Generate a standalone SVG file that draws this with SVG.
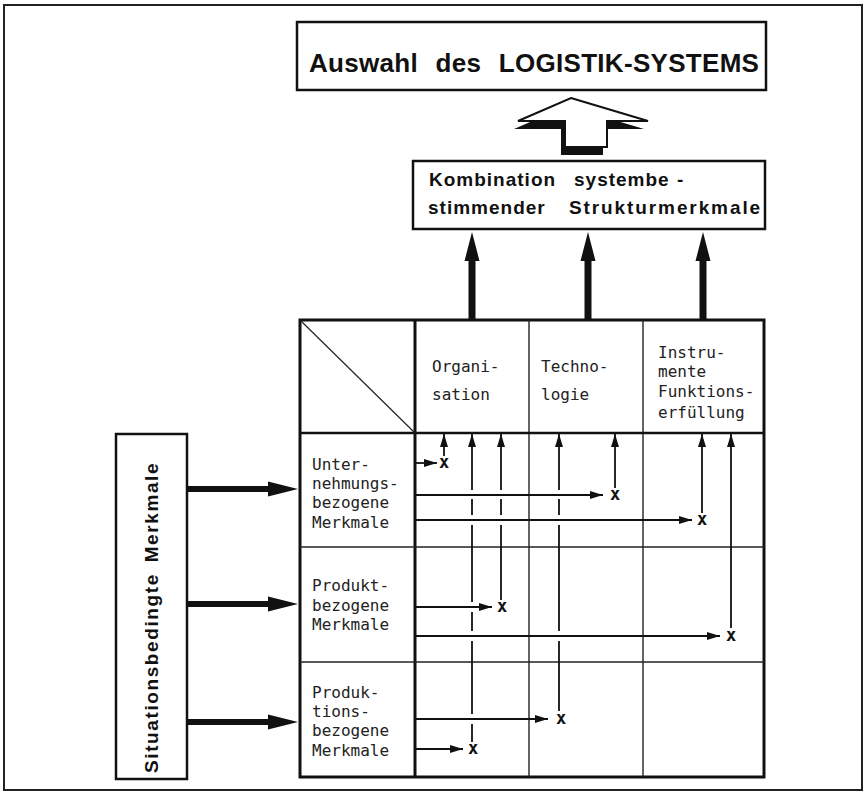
<svg xmlns="http://www.w3.org/2000/svg" width="867" height="796" viewBox="0 0 867 796">
<defs>
<style>
.bold{font-family:"Liberation Sans",Arial,sans-serif;font-weight:bold;fill:#111}
.mono{font-family:"DejaVu Sans Mono","Liberation Mono",monospace;font-size:16px;fill:#222}
.xm{font-family:"DejaVu Sans Mono","Liberation Mono",monospace;font-weight:bold;font-size:17px;fill:#111;text-anchor:middle}
.box{fill:#fff;stroke:#111;stroke-width:2.5}
.thin{stroke:#111;stroke-width:1.8;fill:none}
.arr{marker-end:url(#ah)}
.gridl{stroke:#222;stroke-width:1.4;fill:none}
.gridb{stroke:#111;stroke-width:3;fill:none}
.fat{fill:#111;stroke:none}
</style>
<marker id="ah" markerUnits="userSpaceOnUse" markerWidth="14" markerHeight="8" refX="13" refY="4" orient="auto"><path d="M0,0 L13,4 L0,8 z" fill="#111"/></marker>
</defs>
<rect width="867" height="796" fill="#fff"/>
<rect x="4" y="5" width="858" height="785" fill="none" stroke="#222" stroke-width="2"/>

<g id="auswahl">
<rect x="297" y="22" width="469" height="68" class="box"/>
<text x="309" y="72" class="bold" font-size="26" word-spacing="10" letter-spacing="0.3">Auswahl des LOGISTIK-SYSTEMS</text>
</g>

<g id="block-arrow">
<polygon points="571,98 648,121 607,121 607,147 565,147 565,121 518,121" transform="translate(-4,8)" fill="#111"/>
<polygon points="571,98 648,121 607,121 607,147 565,147 565,121 518,121" fill="#fff" stroke="#111" stroke-width="2" stroke-linejoin="miter"/>
</g>

<g id="kombination">
<rect x="413" y="161" width="352" height="68" class="box"/>
<text class="bold" font-size="19" letter-spacing="1" y="186"><tspan x="429">Kombination</tspan><tspan x="574">systembe</tspan><tspan x="677">-</tspan></text>
<text class="bold" font-size="19" letter-spacing="1" y="214"><tspan x="428">stimmender</tspan><tspan x="569" letter-spacing="1.9">Strukturmerkmale</tspan></text>
</g>

<g id="situationsbedingte-merkmale">
<rect x="116" y="434" width="71" height="345" class="box"/>
<text transform="translate(158,773) rotate(-90)" class="bold" font-size="19" letter-spacing="1.6" word-spacing="4">Situationsbedingte Merkmale</text>
</g>

<g id="matrix">
<rect x="300" y="320" width="464" height="457" class="gridb" fill="#fff"/>
<line x1="415" y1="320" x2="415" y2="777" class="gridb"/>
<line x1="529" y1="320" x2="529" y2="777" class="gridl"/>
<line x1="643" y1="320" x2="643" y2="777" class="gridl"/>
<line x1="300" y1="433" x2="764" y2="433" stroke="#111" stroke-width="2.5"/>
<line x1="300" y1="547" x2="764" y2="547" stroke="#222" stroke-width="1.6"/>
<line x1="300" y1="662" x2="764" y2="662" stroke="#222" stroke-width="1.6"/>
<line x1="300" y1="320" x2="415" y2="433" stroke="#222" stroke-width="1.2"/>
</g>

<g id="col-organisation"><text class="mono" x="432" y="372">Organi-</text><text class="mono" x="432" y="400">sation</text></g>
<g id="col-technologie"><text class="mono" x="541" y="372">Techno-</text><text class="mono" x="541" y="400">logie</text></g>
<g id="col-instrumente"><text class="mono" x="658" y="358">Instru-</text><text class="mono" x="658" y="377">mente</text><text class="mono" x="658" y="397">Funktions-</text><text class="mono" x="658" y="418">erfüllung</text></g>

<g id="row-unternehmung"><text class="mono" x="312" y="470">Unter-</text><text class="mono" x="312" y="489">nehmungs-</text><text class="mono" x="312" y="508">bezogene</text><text class="mono" x="312" y="528">Merkmale</text></g>
<g id="row-produkt"><text class="mono" x="312" y="591">Produkt-</text><text class="mono" x="312" y="611">bezogene</text><text class="mono" x="312" y="630">Merkmale</text></g>
<g id="row-produktion"><text class="mono" x="312" y="698">Produk-</text><text class="mono" x="312" y="717">tions-</text><text class="mono" x="312" y="736">bezogene</text><text class="mono" x="312" y="756">Merkmale</text></g>

<g id="connectors">
<path class="fat" d="M468.5,320 V261 H464.5 L472,232 L479.5,261 H475.5 V320 Z"/>
<path class="fat" d="M584.5,320 V261 H580.5 L588,232 L595.5,261 H591.5 V320 Z"/>
<path class="fat" d="M699.5,320 V261 H695.5 L703,232 L710.5,261 H706.5 V320 Z"/>
<path class="fat" d="M187,486 H268 V481.5 L298,489 L268,496.5 V492 H187 Z"/>
<path class="fat" d="M187,601 H268 V596.5 L298,604 L268,611.5 V607 H187 Z"/>
<path class="fat" d="M187,719 H268 V714.5 L298,722 L268,729.5 V725 H187 Z"/>

<path class="thin arr" d="M415,463 H437"/>
<path class="thin arr" d="M415,495 H603"/>
<path class="thin arr" d="M415,520 H692"/>
<path class="thin arr" d="M415,607 H492"/>
<path class="thin arr" d="M415,636 H720"/>
<path class="thin arr" d="M415,719 H548"/>
<path class="thin arr" d="M415,749 H463"/>

<path class="thin arr" d="M444,456 V434"/>
<path class="thin arr" d="M472,490 V434"/>
<path class="thin" d="M472,499 V515 M472,525 V602 M472,612 V631 M472,641 V714 M472,724 V742"/>
<path class="thin arr" d="M501,490 V434"/>
<path class="thin" d="M501,499 V515 M501,525 V600"/>
<path class="thin arr" d="M559,490 V434"/>
<path class="thin" d="M559,499 V515 M559,525 V631 M559,641 V711"/>
<path class="thin arr" d="M615,488 V434"/>
<path class="thin arr" d="M702,513 V434"/>
<path class="thin arr" d="M731,628 V434"/>
</g>

<g id="marks">
<text class="xm" x="444" y="468">x</text>
<text class="xm" x="615" y="500">x</text>
<text class="xm" x="702" y="525">x</text>
<text class="xm" x="502" y="612">x</text>
<text class="xm" x="731" y="641">x</text>
<text class="xm" x="561" y="724">x</text>
<text class="xm" x="473" y="754">x</text>
</g>
</svg>
